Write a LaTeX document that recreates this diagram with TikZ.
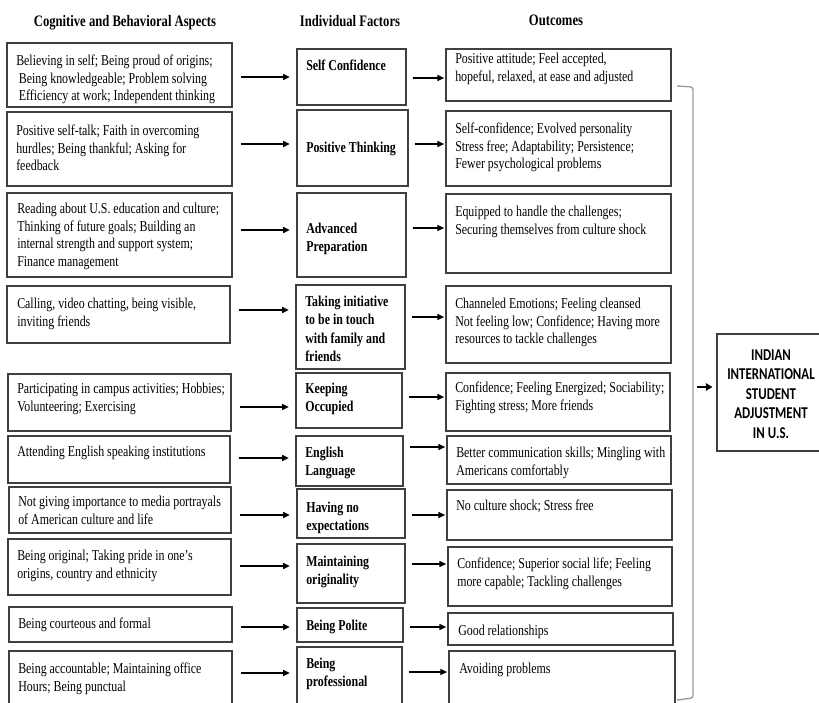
\documentclass[tikz,border=0pt]{standalone}
\usepackage{fontspec}
\setmainfont{Liberation Serif}[FakeStretch=0.79]
\newfontfamily\goalfont{Carlito}[FakeStretch=0.78]
\usetikzlibrary{arrows.meta,fit}
\begin{document}
\begin{tikzpicture}[x=0.75pt,y=-0.75pt,
	box/.style={draw=black!75, line width=0.8pt, inner sep=0pt},
	aspect/.style={anchor=north west, inner sep=0pt, align=left, font=\fontsize{11.3}{13.1}\selectfont},
	factor/.style={anchor=north west, inner sep=0pt, align=left, font=\bfseries\fontsize{11.3}{13.7}\selectfont},
	head/.style={anchor=north, inner sep=0pt, font=\bfseries\fontsize{12}{14}\selectfont},
	goaltxt/.style={inner sep=0pt, align=center, font=\goalfont\bfseries\fontsize{12.4}{14.6}\selectfont},
	arr/.style={-{Triangle[length=5pt,width=4.5pt]}, line width=0.9pt},
	bigarr/.style={-{Triangle[length=5pt,width=5.5pt]}, line width=1.8pt},
	brace/.style={draw=black!40, line width=1pt, rounded corners=2pt}]
	\useasboundingbox (0,0) rectangle (819,703);
	\clip (0,0) rectangle (819,703);
	% column headings
	\node[head] (h1) at (125,15) {Cognitive and Behavioral Aspects};
	\node[head] (h2) at (350,15) {Individual Factors};
	\node[head] (h3) at (556,15) {Outcomes};
	% boxes: aspects, factors, outcomes
	\foreach \n/\a/\b/\c/\d in {c1/7/43/232/107, c2/7/112/232/186, c3/7/193/232/277,
		c4/7/286/230/343, c5/8/374/231/431, c6/8/436/230/483, c7/9/487/231/533,
		c8/8/539/231/595, c9/9/607/232/642, c10/9/651/232/720,
		f1/297/49/406/105, f2/297/110/408/186, f3/297/193/406/277, f4/296/285/405/369,
		f5/296/373/402/428, f6/296/436/403/486, f7/297/489/405/538, f8/297/544/405/603,
		f9/297/608/403/642, f10/297/647/402/720,
		o1/446/49/671/101, o2/446/111/671/186, o3/446/194/671/273, o4/446/286/671/363,
		o5/446/373/670/431, o6/447/436/671/484, o7/447/490/672/540, o8/448/547/672/606,
		o9/448/613/673/645, o10/449/651/675/720}
		\node[box, fit={(\a,\b) (\c,\d)}] (\n) {};
	% aspects
	\node[aspect] (a1) at (16,55) {Believing in self; Being proud of origins;\\\hspace*{2pt}Being knowledgeable; Problem solving\\\hspace*{2pt}Efficiency at work; Independent thinking};
	\node[aspect] (a2) at (16,125) {Positive self-talk; Faith in overcoming\\hurdles; Being thankful; Asking for\\feedback};
	\node[aspect] (a3) at (17,203) {Reading about U.S. education and culture;\\Thinking of future goals; Building an\\internal strength and support system;\\Finance management};
	\node[aspect] (a4) at (17,298) {Calling, video chatting, being visible,\\inviting friends};
	\node[aspect] (a5) at (17,383) {Participating in campus activities; Hobbies;\\Volunteering; Exercising};
	\node[aspect] (a6) at (17,446) {Attending English speaking institutions};
	\node[aspect] (a7) at (18,496) {Not giving importance to media portrayals\\of American culture and life};
	\node[aspect] (a8) at (17,550) {Being original; Taking pride in one’s\\origins, country and ethnicity};
	\node[aspect] (a9) at (18,618) {Being courteous and formal};
	\node[aspect] (a10) at (18,663) {Being accountable; Maintaining office\\Hours; Being punctual};
	% factors
	\node[factor] (ft1) at (306,60) {Self Confidence};
	\node[factor] (ft2) at (306,142) {Positive Thinking};
	\node[factor] (ft3) at (306,223) {Advanced\\Preparation};
	\node[factor] (ft4) at (305,296) {Taking initiative\\to be in touch\\with family and\\friends};
	\node[factor] (ft5) at (305,383) {Keeping\\Occupied};
	\node[factor] (ft6) at (305,447) {English\\Language};
	\node[factor] (ft7) at (306,502) {Having no\\expectations};
	\node[factor] (ft8) at (306,556) {Maintaining\\originality};
	\node[factor] (ft9) at (306,620) {Being Polite};
	\node[factor] (ft10) at (306,658) {Being\\professional};
	% outcomes
	\node[aspect] (ot1) at (455,53) {Positive attitude; Feel accepted,\\hopeful, relaxed, at ease and adjusted};
	\node[aspect] (ot2) at (455,123) {Self-confidence; Evolved personality\\Stress free; Adaptability; Persistence;\\Fewer psychological problems};
	\node[aspect] (ot3) at (455,206) {Equipped to handle the challenges;\\Securing themselves from culture shock};
	\node[aspect] (ot4) at (455,298) {Channeled Emotions; Feeling cleansed\\Not feeling low; Confidence; Having more\\resources to tackle challenges};
	\node[aspect] (ot5) at (455,382) {Confidence; Feeling Energized; Sociability;\\Fighting stress; More friends};
	\node[aspect] (ot6) at (456,447) {Better communication skills; Mingling with\\Americans comfortably};
	\node[aspect] (ot7) at (456,500) {No culture shock; Stress free};
	\node[aspect] (ot8) at (457,558) {Confidence; Superior social life; Feeling\\more capable; Tackling challenges};
	\node[aspect] (ot9) at (458,625) {Good relationships};
	\node[aspect] (ot10) at (459,663) {Avoiding problems};
	% arrows between the columns
	\foreach \i/\ya/\yb in {1/77/78, 2/144/144, 3/230/228, 4/310/317, 5/407/397,
		6/458/447, 7/515/515, 8/566/564, 9/627/627, 10/673/672} {
		\coordinate (ya\i) at (0,\ya);
		\coordinate (yb\i) at (0,\yb);
		\draw[arr, shorten <=6pt, shorten >=5pt] (c\i.east |- ya\i) -- (f\i.west |- ya\i);
		\draw[arr, shorten <=4.5pt, shorten >=1pt] (f\i.east |- yb\i) -- (o\i.west |- yb\i);
	}
	% bracket and final box
	\draw[brace] (677,86) -- (693,87) -- (693,698) -- (677,700);
	\coordinate (br) at (693,387);
	\node[box, fit={(717,334) (840,451)}] (goal) {};
	\node[goaltxt] (goal-t) at (771,394) {INDIAN\\INTERNATIONAL\\STUDENT\\ADJUSTMENT\\IN U.S.};
	\draw[bigarr, shorten <=3pt, shorten >=3pt] (br) -- (goal.west |- br);
\end{tikzpicture}
\end{document}
